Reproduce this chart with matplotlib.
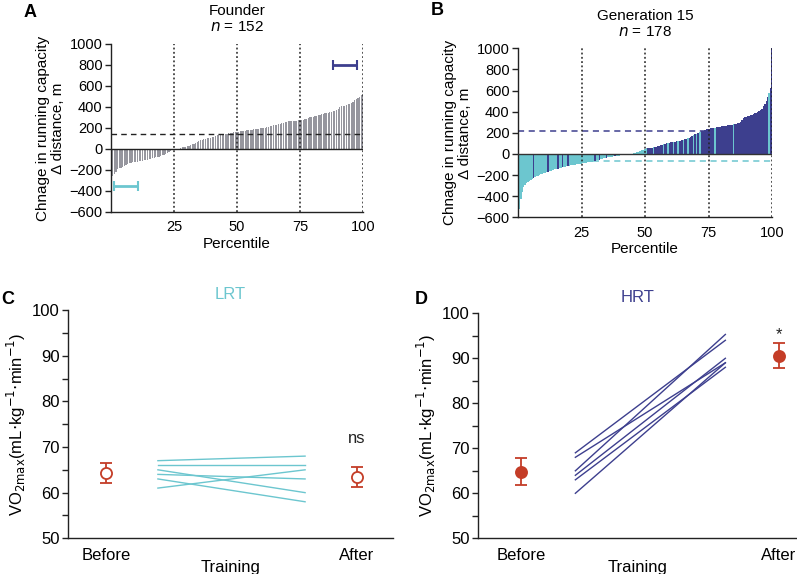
import matplotlib
matplotlib.use("Agg")
import matplotlib.pyplot as plt
from matplotlib.ticker import MultipleLocator
import numpy as np

plt.rcParams['font.family'] = ['Liberation Sans', 'DejaVu Sans']

# ---------------- data ----------------
# Panel A: Founder, n = 152, sorted change in running capacity (m)
founder_vals = [
    -255, -240, -215, -195, -185,
    -180, -170, -160, -150, -142,
    -135, -132, -128, -125, -122,
    -120, -117, -114, -111, -108,
    -105, -101, -98, -94, -90,
    -85, -81, -76, -72, -66,
    -60, -54, -47, -40, -30,
    -15, -8, 0, 0, 0,
    0, 12, 15, 18, 22,
    25, 30, 38, 45, 50,
    58, 66, 75, 82, 88,
    92, 98, 102, 106, 108,
    112, 118, 124, 130, 135,
    137, 140, 142, 145, 146,
    148, 152, 155, 158, 160,
    162, 165, 168, 170, 172,
    174, 176, 180, 182, 185,
    186, 188, 190, 193, 197,
    198, 200, 204, 208, 212,
    216, 220, 224, 228, 232,
    236, 240, 245, 250, 255,
    258, 262, 265, 266, 268,
    268, 270, 272, 274, 275,
    278, 282, 288, 294, 300,
    304, 308, 312, 316, 320,
    325, 330, 334, 338, 342,
    345, 350, 355, 360, 365,
    370, 385, 400, 405, 410,
    412, 418, 425, 432, 440,
    450, 462, 475, 488, 498,
    510, 525,
]
founder_mean = 145
lrt_sel = (6.0, 4.7, -355)    # centre percentile, half width, level
hrt_sel = (92.8, 4.7, 800)

# Panel B: Generation 15, n = 178
gen15_vals = [
    -520, -430, -360, -310, -290,
    -275, -262, -252, -244, -236,
    -228, -220, -213, -206, -200,
    -194, -188, -183, -178, -172,
    -168, -163, -158, -153, -148,
    -145, -141, -138, -134, -130,
    -127, -124, -121, -117, -113,
    -110, -107, -104, -102, -100,
    -98, -96, -94, -91, -89,
    -87, -85, -83, -80, -78,
    -76, -73, -70, -66, -62,
    -58, -54, -50, -46, -42,
    -39, -36, -33, -30, -28,
    -26, -24, -22, -20, -18,
    -16, -14, -12, -11, -10,
    -9, -8, -6, -3, 2,
    6, 10, 14, 18, 24,
    30, 36, 42, 48, 52,
    54, 56, 58, 60, 62,
    64, 68, 72, 76, 82,
    86, 90, 95, 100, 105,
    108, 110, 112, 114, 116,
    118, 121, 124, 127, 130,
    134, 138, 142, 148, 155,
    162, 170, 178, 186, 192,
    198, 204, 210, 215, 222,
    228, 234, 238, 240, 242,
    244, 246, 248, 251, 254,
    256, 258, 260, 262, 265,
    268, 270, 272, 275, 278,
    280, 283, 286, 290, 295,
    300, 320, 340, 348, 352,
    358, 362, 367, 372, 380,
    386, 392, 398, 404, 415,
    430, 450, 470, 500, 540,
    580, 620, 1050,
]
gen15_split = 90                      # bars from this index default to HRT colour
gen15_hrt_low = [10, 20, 27, 30, 34, 53, 56, 61, 67, 72, 74, 76]
gen15_lrt_high = [94, 101, 104, 108, 111, 115, 118, 122, 124, 126, 127, 137, 150, 175]
gen15_mean_hrt = 215
gen15_mean_lrt = -70

# Panels C / D: VO2max
lrt_before = [67.0, 66.0, 65.0, 64.0, 63.0, 61.0]
lrt_after = [68.0, 66.0, 60.0, 63.0, 58.0, 65.0]
lrt_mean = [64.4, 63.4]
lrt_err = [2.2, 2.2]

hrt_before = [69.0, 68.0, 65.0, 64.0, 63.0, 60.0]
hrt_after = [94.0, 89.0, 95.3, 90.0, 88.0, 89.0]
hrt_mean = [64.8, 90.6]
hrt_err = [3.0, 2.7]

time_labels = ["Before", "After"]
pct_ticks = [25, 50, 75, 100]

# ---------------- style ----------------
GRAY = "#96969e"
CYAN = "#6cc6cf"
NAVY = "#3d3f8e"
RED = "#c43d27"
INK = "#222222"

fig = plt.figure(figsize=(7.97, 5.74), dpi=100)


def style_pct_axis(ax):
    ax.set_xlim(0, 100)
    ax.set_ylim(-600, 1000)
    ax.set_yticks(range(-600, 1001, 200))
    ax.set_xticks(pct_ticks)
    for s in ("top", "right"):
        ax.spines[s].set_visible(False)
    for s in ("left", "bottom"):
        ax.spines[s].set_color(INK)
        ax.spines[s].set_linewidth(1.0)
    ax.tick_params(axis="y", length=4, width=1, labelsize=10.5, color=INK, pad=2)
    ax.tick_params(axis="x", length=0, labelsize=10.5, pad=6)
    for p in pct_ticks:
        ax.axvline(p, color=INK, ls=(0, (1.2, 1.6)), lw=1.1, zorder=4)
    ax.set_xlabel("Percentile", fontsize=11, labelpad=2)
    ax.set_ylabel("Chnage in running capacity\n\u0394 distance, m", fontsize=11,
                  labelpad=3, linespacing=1.1)


# ---- Panel A ----
axA = fig.add_axes([0.1393, 0.6307, 0.3162, 0.2927])
nA = len(founder_vals)
xA = [(i + 1) / nA * 100 for i in range(nA)]
axA.bar(xA, founder_vals, width=0.48, color=GRAY, linewidth=0, zorder=2)
axA.axhline(0, color=INK, lw=1.0, zorder=3)
axA.axhline(founder_mean, color=INK, ls=(0, (4, 3)), lw=1.0, zorder=3)
axA.errorbar(lrt_sel[0], lrt_sel[2], xerr=lrt_sel[1], fmt="none", ecolor=CYAN,
             elinewidth=2, capsize=3.5, capthick=1.5, zorder=5)
axA.errorbar(hrt_sel[0], hrt_sel[2], xerr=hrt_sel[1], fmt="none", ecolor=NAVY,
             elinewidth=2, capsize=3.5, capthick=1.5, zorder=5)
style_pct_axis(axA)
axA.set_title("Founder\n$n$ = 152", fontsize=11, pad=9, linespacing=1.2)

# ---- Panel B ----
axB = fig.add_axes([0.650, 0.6214, 0.3187, 0.2944])
nB = len(gen15_vals)
xB = [(i + 1) / nB * 100 for i in range(nB)]
colB = []
for i in range(nB):
    if i < gen15_split:
        colB.append(NAVY if i in gen15_hrt_low else CYAN)
    else:
        colB.append(CYAN if i in gen15_lrt_high else NAVY)
axB.axhline(gen15_mean_hrt, color=NAVY, ls=(0, (4, 3)), lw=1.1, zorder=1)
axB.axhline(gen15_mean_lrt, color=CYAN, ls=(0, (4, 3)), lw=1.1, zorder=1)
axB.bar(xB, gen15_vals, width=100 / nB * 1.02, color=colB, linewidth=0, zorder=2)
axB.axhline(0, color="#333333", lw=1.0, zorder=3)
style_pct_axis(axB)
axB.set_title("Generation 15\n$n$ = 178", fontsize=11, pad=9, linespacing=1.2)


# ---- Panels C / D ----
def vo2_axis(ax, before, after, mean, err, line_color, title, filled, mark, xlim, lx):
    for b, a in zip(before, after):
        ax.plot(lx, [b, a], color=line_color, lw=1.0, zorder=2)
    ax.errorbar([0, 1], mean, yerr=err, fmt="o", color=RED, ecolor=RED,
                mfc=RED if filled else "white", mec=RED, ms=8, mew=1.3,
                elinewidth=1.3, capsize=4, capthick=1.3, zorder=3)
    ax.text(1, mark[1], mark[0], ha="center", va="center", fontsize=12, color=INK)
    ax.set_xlim(*xlim)
    ax.set_ylim(50, 100)
    ax.yaxis.set_major_locator(MultipleLocator(10))
    ax.yaxis.set_minor_locator(MultipleLocator(5))
    ax.set_xticks([0, 1])
    ax.set_xticklabels(time_labels)
    for s in ("top", "right"):
        ax.spines[s].set_visible(False)
    for s in ("left", "bottom"):
        ax.spines[s].set_color(INK)
        ax.spines[s].set_linewidth(1.0)
    ax.tick_params(axis="y", which="both", length=4, width=1, labelsize=12, color=INK, pad=2)
    ax.tick_params(axis="x", length=0, labelsize=12, pad=7)
    ax.set_xlabel("Training", fontsize=12, labelpad=-2)
    ax.set_ylabel(r"VO$_{2\mathrm{max}}$(mL$\cdot$kg$^{-1}$$\cdot$min$^{-1}$)", fontsize=12,
                  labelpad=3)
    ax.set_title(title, color=line_color, fontsize=12, pad=8)


axC = fig.add_axes([0.0853, 0.0622, 0.4078, 0.3977])
vo2_axis(axC, lrt_before, lrt_after, lrt_mean, lrt_err, CYAN, "LRT", False,
         ("ns", 71.9), (-0.151, 1.143), [0.207, 0.793])

axD = fig.add_axes([0.5997, 0.0622, 0.4003, 0.392])
vo2_axis(axD, hrt_before, hrt_after, hrt_mean, hrt_err, NAVY, "HRT", True,
         ("*", 95.2), (-0.167, 1.071), [0.211, 0.793])

# panel letters
for lab, x, y in [("A", 0.030, 0.978), ("B", 0.541, 0.982), ("C", 0.002, 0.478), ("D", 0.521, 0.478)]:
    fig.text(x, y, lab, fontsize=13, fontweight="bold", ha="left", va="center")

fig.savefig("out.png", dpi=100)
